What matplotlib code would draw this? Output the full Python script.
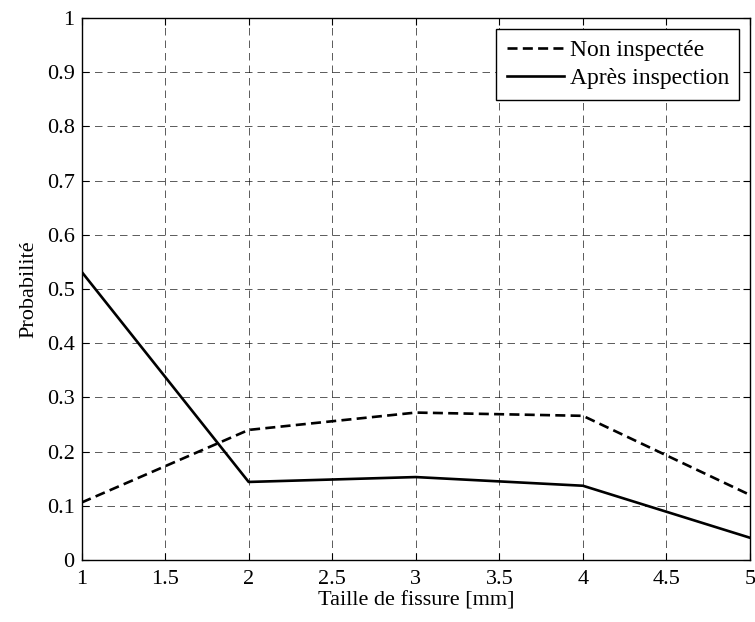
import numpy as np
import matplotlib.pyplot as plt

plt.rcParams['font.family'] = 'Liberation Serif'
plt.rcParams['font.size'] = 16

# Data
taille = [1, 2, 3, 4, 5]
non_inspectee = [0.106, 0.240, 0.272, 0.266, 0.120]
apres_inspection = [0.532, 0.144, 0.153, 0.137, 0.041]

x_ticks = [1, 1.5, 2, 2.5, 3, 3.5, 4, 4.5, 5]
x_tick_labels = ["1", "1.5", "2", "2.5", "3", "3.5", "4", "4.5", "5"]
y_ticks = [0, 0.1, 0.2, 0.3, 0.4, 0.5, 0.6, 0.7, 0.8, 0.9, 1]
y_tick_labels = ["0", "0.1", "0.2", "0.3", "0.4", "0.5", "0.6", "0.7", "0.8", "0.9", "1"]

fig = plt.figure(figsize=(7.55, 6.22), dpi=100)
ax = fig.add_axes([0.108, 0.0997, 0.8854, 0.8713])

ax.plot(taille, non_inspectee, color="black", linestyle="--", linewidth=1.9,
        dashes=(3.8, 2.0), label="Non inspectée")
ax.plot(taille, apres_inspection, color="black", linestyle="-", linewidth=1.9,
        label="Après inspection")

ax.set_xlim(1, 5)
ax.set_ylim(0, 1)
ax.set_xticks(x_ticks)
ax.set_xticklabels(x_tick_labels)
ax.set_yticks(y_ticks)
ax.set_yticklabels(y_tick_labels)
ax.grid(True, color="black", linestyle=(0, (9, 6)), linewidth=0.6, alpha=0.75)
ax.tick_params(direction="in", top=True, right=True, length=5, width=0.8)
ax.tick_params(axis="y", pad=5)
ax.tick_params(axis="x", pad=7)
for s in ax.spines.values():
    s.set_linewidth(1)

ax.set_xlabel("Taille de fissure [mm]", labelpad=2)
ax.set_ylabel("Probabilité", labelpad=6)

leg = ax.legend(loc="upper right", fancybox=False, edgecolor="black", framealpha=1,
                handlelength=2.4, borderpad=0.45, labelspacing=0.3, handletextpad=0.25,
                borderaxespad=0.45, fontsize=17)
leg.get_frame().set_linewidth(1)

fig.savefig("out.png", dpi=100)
